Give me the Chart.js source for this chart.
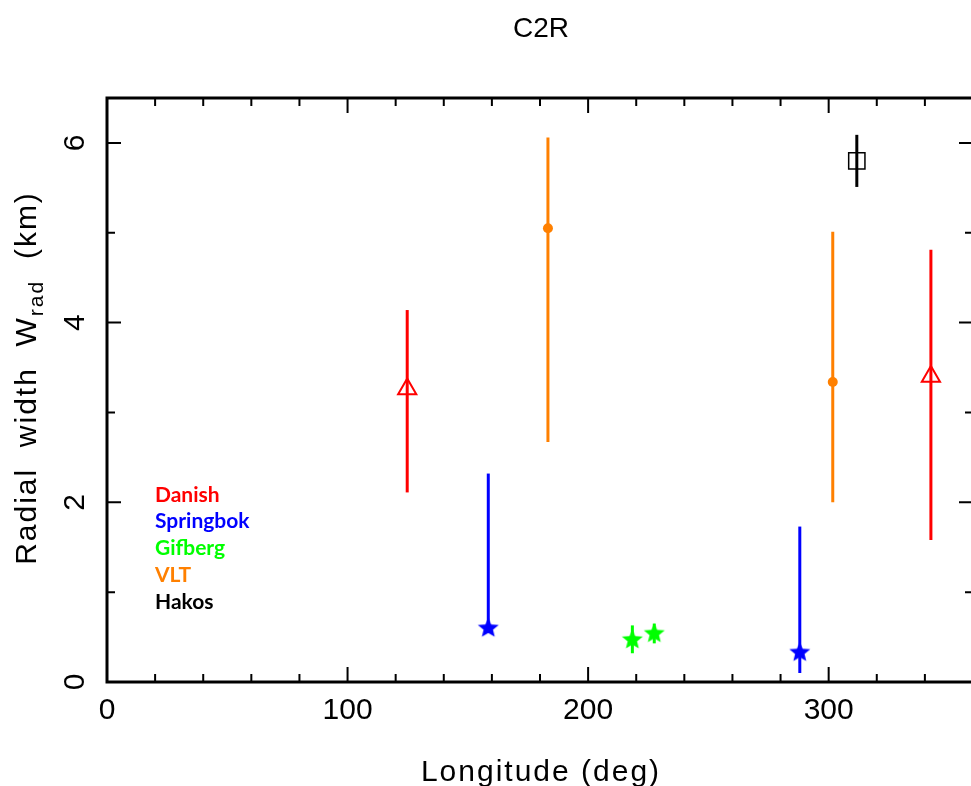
<!DOCTYPE html>
<html>
<head>
<meta charset="utf-8">
<script src="https://cdn.jsdelivr.net/npm/chart.js@4.4.0/dist/chart.umd.min.js"></script>
<style>
  html, body { margin: 0; padding: 0; overflow: hidden; background: #fff; }
</style>
</head>
<body>
<canvas id="chart" width="990" height="786"></canvas>
<script>
// stations (legend order) and their colours
const stations = ['Danish', 'Springbok', 'Gifberg', 'VLT', 'Hakos'];
const stationColors = ['#ff0000', '#0000ff', '#00ff00', '#ff8000', '#000000'];

// longitude (deg), radial width (km), lower / upper error limits (km)
const danishLon = [124.8, 342.5];
const danishW = [3.26, 3.40];
const danishLo = [2.11, 1.58];
const danishHi = [4.14, 4.81];

const springbokLon = [158.5, 288.0];
const springbokW = [0.61, 0.34];
const springbokLo = [0.55, 0.10];
const springbokHi = [2.32, 1.73];

const gifbergLon = [218.4, 227.5];
const gifbergW = [0.48, 0.55];
const gifbergLo = [0.32, 0.43];
const gifbergHi = [0.63, 0.65];

const vltLon = [183.3, 301.7];
const vltW = [5.05, 3.34];
const vltLo = [2.67, 2.00];
const vltHi = [6.06, 5.01];

const hakosLon = [311.7];
const hakosW = [5.80];
const hakosLo = [5.51];
const hakosHi = [6.09];

// axes
const xTicks = [0, 100, 200, 300];
const yTicks = [0, 2, 4, 6];
const xMinorStep = 20;
const yMinorStep = 1;

const mainTitle = 'C2R';
const xTitle = 'Longitude (deg)';

// filled five-point star used as a point style
function makeStar(color, r) {
  const c = document.createElement('canvas');
  const s = Math.ceil(r * 2 + 2);
  c.width = c.height = s;
  const g = c.getContext('2d');
  g.fillStyle = color;
  g.beginPath();
  for (let i = 0; i < 10; i++) {
    const a = -Math.PI / 2 + i * Math.PI / 5;
    const rr = i % 2 ? r * 0.45 : r;
    g.lineTo(s / 2 + rr * Math.cos(a), s / 2 + rr * 0.95 * Math.sin(a) + 1);
  }
  g.closePath();
  g.fill();
  return c;
}

function pts(lon, w) {
  return lon.map((x, i) => ({ x: x, y: w[i] }));
}

const datasets = [
  {
    label: stations[0], data: pts(danishLon, danishW), errLo: danishLo, errHi: danishHi,
    pointStyle: 'triangle', pointRadius: 10.5, borderColor: stationColors[0],
    backgroundColor: 'rgba(0,0,0,0)', borderWidth: 2
  },
  {
    label: stations[1], data: pts(springbokLon, springbokW), errLo: springbokLo, errHi: springbokHi,
    pointStyle: makeStar(stationColors[1], 11), pointRadius: 10, borderColor: stationColors[1],
    backgroundColor: stationColors[1]
  },
  {
    label: stations[2], data: pts(gifbergLon, gifbergW), errLo: gifbergLo, errHi: gifbergHi,
    pointStyle: makeStar(stationColors[2], 11), pointRadius: 10, borderColor: stationColors[2],
    backgroundColor: stationColors[2]
  },
  {
    label: stations[3], data: pts(vltLon, vltW), errLo: vltLo, errHi: vltHi,
    pointStyle: 'circle', pointRadius: 5, borderColor: stationColors[3],
    backgroundColor: stationColors[3], borderWidth: 0
  },
  {
    label: stations[4], data: pts(hakosLon, hakosW), errLo: hakosLo, errHi: hakosHi,
    pointStyle: 'rect', pointRadius: 11.5, borderColor: stationColors[4],
    backgroundColor: 'rgba(0,0,0,0)', borderWidth: 1.5
  }
];

// vertical error bars, drawn under the markers
const errorBars = {
  id: 'errorBars',
  beforeDatasetsDraw(chart) {
    const g = chart.ctx;
    const xs = chart.scales.x, ys = chart.scales.y;
    g.save();
    g.lineWidth = 3;
    chart.data.datasets.forEach(ds => {
      g.strokeStyle = ds.borderColor;
      ds.data.forEach((p, i) => {
        const px = xs.getPixelForValue(p.x);
        g.beginPath();
        g.moveTo(px, ys.getPixelForValue(ds.errLo[i]));
        g.lineTo(px, ys.getPixelForValue(ds.errHi[i]));
        g.stroke();
      });
    });
    g.restore();
  }
};

// box, inward ticks, labels, titles and station key
const frame = {
  id: 'frame',
  afterDraw(chart) {
    const g = chart.ctx;
    const a = chart.chartArea;
    const xs = chart.scales.x, ys = chart.scales.y;
    g.save();
    g.strokeStyle = '#000';
    g.fillStyle = '#000';

    // minor + major ticks on all four sides
    g.lineWidth = 2;
    g.beginPath();
    for (let v = xs.min; v <= xs.max; v += xMinorStep) {
      const px = xs.getPixelForValue(v);
      const len = v % 100 === 0 ? 15 : 8;
      g.moveTo(px, a.bottom); g.lineTo(px, a.bottom - len);
      g.moveTo(px, a.top); g.lineTo(px, a.top + len);
    }
    for (let v = ys.min; v <= ys.max; v += yMinorStep) {
      const py = ys.getPixelForValue(v);
      const len = v % 2 === 0 ? 14 : 8;
      g.moveTo(a.left, py); g.lineTo(a.left + len, py);
      g.moveTo(a.right, py); g.lineTo(a.right - len, py);
    }
    g.stroke();

    g.lineWidth = 3;
    g.strokeRect(a.left, a.top, a.right - a.left, a.bottom - a.top);

    // x tick labels
    g.font = '30px "Liberation Sans", Arial, sans-serif';
    g.textAlign = 'center';
    g.textBaseline = 'alphabetic';
    xTicks.forEach(v => g.fillText(String(v), xs.getPixelForValue(v), 719));

    // y tick labels, rotated
    yTicks.forEach(v => {
      g.save();
      g.translate(84, ys.getPixelForValue(v));
      g.rotate(-Math.PI / 2);
      g.fillText(String(v), 0, 0);
      g.restore();
    });

    // x axis title
    g.letterSpacing = '2px';
    g.fillText(xTitle, (a.left + a.right) / 2 + 1, 781);

    // y axis title with subscript
    g.save();
    g.translate(36, (a.top + a.bottom) / 2 - 12);
    g.rotate(-Math.PI / 2);
    const big = '30px "Liberation Sans", Arial, sans-serif';
    const small = '21px "Liberation Sans", Arial, sans-serif';
    const parts = [['Radial  width  W', big, 0], ['rad', small, 7], ['  (km)', big, 0]];
    let total = 0;
    parts.forEach(p => { g.font = p[1]; total += g.measureText(p[0]).width; });
    let cx = -total / 2;
    g.textAlign = 'left';
    parts.forEach(p => {
      g.font = p[1];
      g.fillText(p[0], cx, p[2]);
      cx += g.measureText(p[0]).width;
    });
    g.restore();
    g.letterSpacing = '0px';

    // main title
    g.font = '28px "Liberation Sans", Arial, sans-serif';
    g.textAlign = 'center';
    g.fillText(mainTitle, 541, 37);

    // station key
    g.font = 'bold 21px Lato, "DejaVu Sans", sans-serif';
    g.textAlign = 'left';
    g.textBaseline = 'middle';
    stations.forEach((s, i) => {
      g.fillStyle = stationColors[i];
      g.fillText(s, 155, 495 + i * 26.7);
    });
    g.restore();
  }
};

new Chart(document.getElementById('chart'), {
  type: 'scatter',
  data: { datasets: datasets },
  options: {
    responsive: false,
    animation: false,
    events: [],
    layout: { padding: { left: 107, top: 98, right: 17, bottom: 104 } },
    scales: {
      x: { type: 'linear', min: 0, max: 360, display: false },
      y: { type: 'linear', min: 0, max: 6.5, display: false }
    },
    plugins: {
      legend: { display: false },
      tooltip: { enabled: false },
      title: { display: false }
    }
  },
  plugins: [errorBars, frame]
});
</script>
</body>
</html>
